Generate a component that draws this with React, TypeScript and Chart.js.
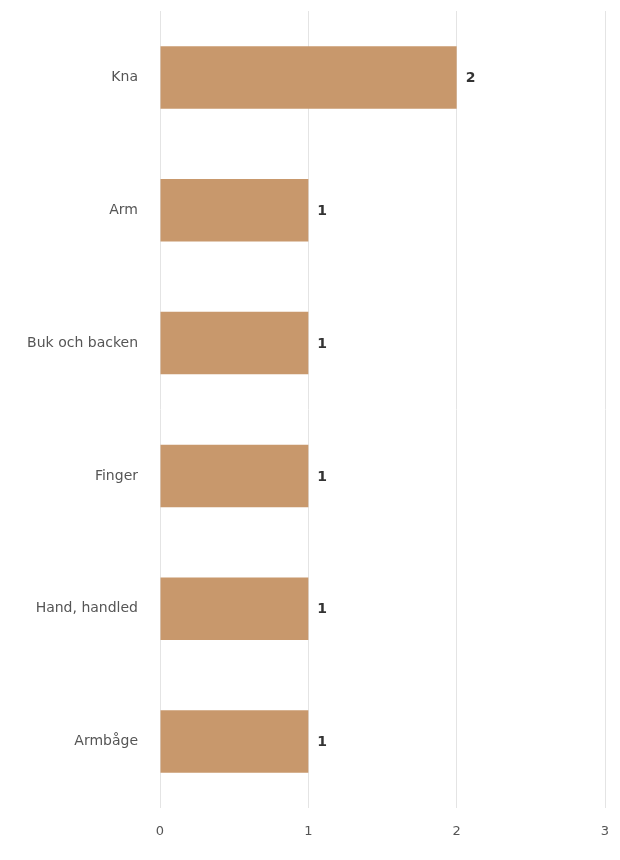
import React, { useEffect, useRef } from "react";
import { Chart, registerables } from "chart.js";

Chart.register(...registerables);

const categories = ["Kna", "Arm", "Buk och backen", "Finger", "Hand, handled", "Armbåge"];
const values = [2, 1, 1, 1, 1, 1];
const xTicks = [0, 1, 2, 3];

const BAR_COLOR = "#C8986C";

const valueLabelPlugin = {
  id: "valueLabels",
  afterDatasetsDraw(chart: any) {
    const ctx = chart.ctx;
    const meta = chart.getDatasetMeta(0);
    ctx.save();
    ctx.font = "bold 14px 'DejaVu Sans', sans-serif";
    ctx.fillStyle = "#333333";
    ctx.textAlign = "left";
    ctx.textBaseline = "middle";
    meta.data.forEach((el: any, i: number) => {
      ctx.fillText(String(values[i]), el.x + 9, el.y + 1);
    });
    ctx.restore();
  },
};

export default function App() {
  const ref = useRef<HTMLCanvasElement | null>(null);
  useEffect(() => {
    if (!ref.current) return;
    const chart = new Chart(ref.current, {
      type: "bar",
      data: {
        labels: categories,
        datasets: [
          {
            data: values,
            backgroundColor: BAR_COLOR,
            borderWidth: 0,
            categoryPercentage: 1,
            barPercentage: 0.47,
          },
        ],
      },
      options: {
        indexAxis: "y",
        animation: false,
        responsive: false,
        layout: { padding: { top: 3, right: 7, left: 0, bottom: 0 } },
        plugins: {
          legend: { display: false },
          tooltip: { enabled: false },
        },
        scales: {
          x: {
            min: 0,
            max: 3,
            afterBuildTicks(scale: any) {
              scale.ticks = xTicks.map((v) => ({ value: v }));
            },
            afterFit(scale: any) {
              scale.height = 44;
              scale.paddingLeft = 0;
              scale.paddingRight = 0;
            },
            grid: { color: "#e4e4e4", drawTicks: false, lineWidth: 1 },
            border: { display: false },
            ticks: {
              padding: 16,
              maxRotation: 0,
              color: "#555555",
              font: { family: "'DejaVu Sans', sans-serif", size: 13 },
            },
          },
          y: {
            afterFit(scale: any) {
              scale.width = 152;
              scale.paddingTop = 0;
              scale.paddingBottom = 0;
            },
            grid: { display: false, drawTicks: false },
            border: { display: false },
            ticks: {
              padding: 22,
              color: "#555555",
              font: { family: "'DejaVu Sans', sans-serif", size: 14 },
            },
          },
        },
      },
      plugins: [valueLabelPlugin],
    });
    return () => chart.destroy();
  }, []);
  return (
    <div style={{ position: "relative" }}>
      <canvas ref={ref} width={604} height={844} style={{ display: "block" }} />
    </div>
  );
}
